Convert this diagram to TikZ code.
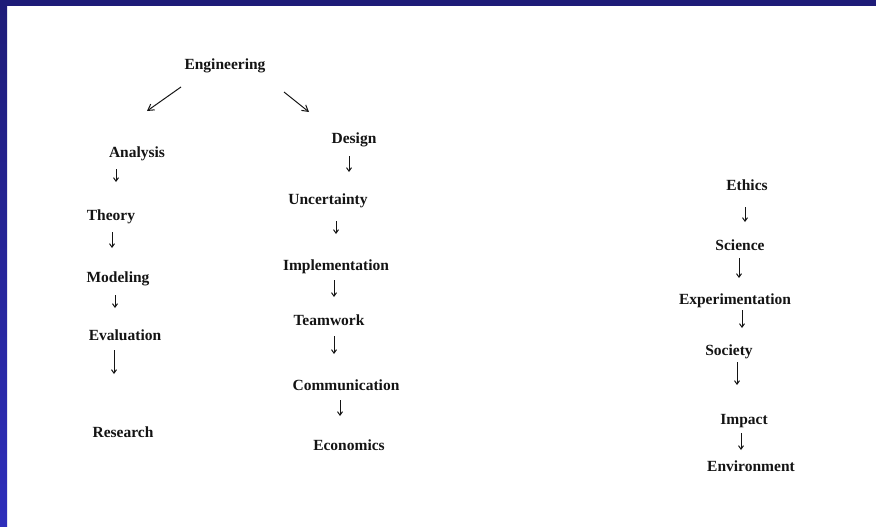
\documentclass[tikz,border=0pt]{standalone}
\usepackage{fontspec}
\setmainfont{Liberation Serif}
\usetikzlibrary{arrows.meta}
\definecolor{barTop}{HTML}{1E1C78}
\definecolor{barBot}{HTML}{2E2EBB}
\definecolor{ink}{HTML}{141414}
\tikzset{
  lbl/.style={font=\fontsize{15.5}{17}\selectfont\bfseries, text=ink, inner sep=0pt, anchor=center},
  down/.style={draw=ink, line width=1pt, -{Straight Barb[length=3.5pt,width=5pt]}},
  diag/.style={draw=ink, line width=1pt, -{Straight Barb[length=6pt,width=7pt]}}
}
\begin{document}
\begin{tikzpicture}[x=1pt,y=-1pt]
\useasboundingbox (0,0) rectangle (876,527);
\fill[white] (0,0) rectangle (876,527);
\shade[top color=barTop, bottom color=barBot] (0,0) rectangle (7,527);
\fill[barTop] (0,0) rectangle (876,6);

% left branch
\node[lbl] (eng) at (225,66) {Engineering};
\node[lbl] (ana) at (137,154) {Analysis};
\node[lbl] (the) at (111,217) {Theory};
\node[lbl] (mod) at (118,279) {Modeling};
\node[lbl] (eva) at (125,335) {Evaluation};
\node[lbl] (res) at (123,432) {Research};
% middle branch
\node[lbl] (des) at (354,140) {Design};
\node[lbl] (unc) at (328,201) {Uncertainty};
\node[lbl] (imp) at (336,267) {Implementation};
\node[lbl] (tea) at (329,320) {Teamwork};
\node[lbl] (com) at (346,385) {Communication};
\node[lbl] (eco) at (349,445) {Economics};
% right column
\node[lbl] (eth) at (747,185) {Ethics};
\node[lbl] (sci) at (740,245) {Science};
\node[lbl] (exp) at (735,301) {Experimentation};
\node[lbl] (soc) at (729,352) {Society};
\node[lbl] (ipc) at (744,421) {Impact};
\node[lbl] (env) at (751,466) {Environment};

% arrow end points
\coordinate (e1s) at (181,87);  \coordinate (e1e) at (147,111);
\coordinate (e2s) at (284,92);  \coordinate (e2e) at (309,112);
\coordinate (a1s) at (116,169); \coordinate (a1e) at (116,182);
\coordinate (a2s) at (112,232); \coordinate (a2e) at (112,248);
\coordinate (a3s) at (115,295); \coordinate (a3e) at (115,308);
\coordinate (a4s) at (114,350); \coordinate (a4e) at (114,374);
\coordinate (d1s) at (349,156); \coordinate (d1e) at (349,172);
\coordinate (d2s) at (336,221); \coordinate (d2e) at (336,234);
\coordinate (d3s) at (334,280); \coordinate (d3e) at (334,297);
\coordinate (d4s) at (334,336); \coordinate (d4e) at (334,354);
\coordinate (d5s) at (340,400); \coordinate (d5e) at (340,416);
\coordinate (r1s) at (745,207); \coordinate (r1e) at (745,222);
\coordinate (r2s) at (739,258); \coordinate (r2e) at (739,278);
\coordinate (r3s) at (742,310); \coordinate (r3e) at (742,328);
\coordinate (r4s) at (737,362); \coordinate (r4e) at (737,385);
\coordinate (r5s) at (741,433); \coordinate (r5e) at (741,450);

\draw[diag] (e1s) -- (e1e);
\draw[diag] (e2s) -- (e2e);
\foreach \n in {a1,a2,a3,a4,d1,d2,d3,d4,d5,r1,r2,r3,r4,r5}
  \draw[down] (\n s) -- (\n e);
\end{tikzpicture}
\end{document}
